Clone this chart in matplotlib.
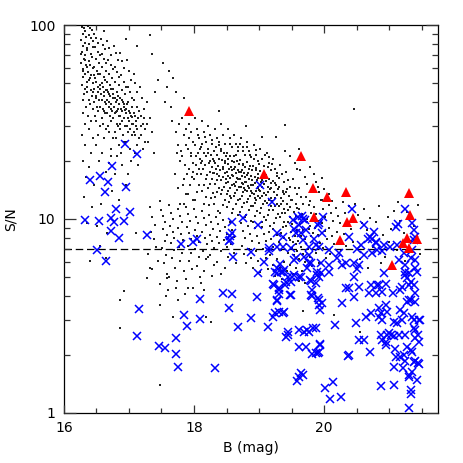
import numpy as np
import matplotlib
matplotlib.use("Agg")
import matplotlib.pyplot as plt
from matplotlib.ticker import FixedLocator, NullFormatter

# red triangles (B mag, S/N)
tri_b = [17.93, 19.07, 19.65, 19.83, 20.05, 20.33, 19.85, 20.35, 20.44, 20.25,
         21.04, 21.30, 21.32, 21.27, 21.42, 21.21, 21.30]
tri_sn = [36, 17, 21, 14.5, 13, 13.7, 10.2, 9.6, 10.1, 7.8,
          5.8, 13.6, 10.5, 8.0, 7.9, 7.5, 7.1]

# blue crosses
cross_b = [16.94, 17.12, 16.74, 16.40, 16.55, 16.68, 16.63, 16.95, 16.80, 17.02,
           16.33, 16.54, 16.72, 16.77, 16.93, 16.72, 16.84, 17.27, 16.51, 16.65,
           17.80, 17.98, 18.04, 18.54, 18.56, 18.58, 18.55, 18.59, 18.60, 17.16,
           18.45, 18.58, 18.09, 18.54, 17.84, 18.09, 17.89, 18.68, 17.13, 17.73,
           17.46, 17.56, 17.72, 17.75, 18.32,
           19.02, 19.20, 18.76, 18.99, 18.88, 18.87, 18.97, 18.99, 19.08, 19.15,
           19.16, 19.13, 19.21, 19.22, 19.27, 19.31, 19.28, 19.32, 19.30, 19.39,
           19.39, 19.44, 19.45, 19.47, 19.49, 19.44, 19.54, 19.57, 19.61, 19.62,
           19.61, 19.72, 19.74, 19.67, 19.64, 19.58, 19.76, 19.76, 19.78, 19.81,
           19.82, 19.83, 19.87, 19.87, 19.94, 19.92, 19.91, 19.92, 19.94, 19.95,
           19.95, 19.97, 20.02, 20.09, 20.14, 20.26, 20.17, 20.27, 20.20, 20.33,
           20.38, 20.38, 20.46, 20.46, 20.49, 20.54, 20.56, 20.54, 20.62, 20.61,
           20.64, 20.70, 20.72, 20.74, 20.77, 20.79, 20.84, 20.89, 20.84, 20.87,
           20.89, 20.87, 20.89, 20.92, 20.95, 20.95, 20.97, 21.00, 21.02, 20.95,
           20.87, 21.07, 21.07, 21.10, 21.15, 21.17, 21.20, 21.20, 21.23, 21.21,
           21.25, 21.28, 21.30, 21.33, 21.34, 21.30, 21.35, 21.38, 21.42, 21.45,
           21.46, 21.40, 21.45, 21.38, 21.35, 21.30, 21.34, 21.40, 21.40, 21.38,
           21.34, 21.30, 21.25, 21.28, 21.43, 21.40, 21.33, 21.25, 21.17, 21.12,
           21.10, 21.35, 21.38, 20.92,
           19.28, 19.36, 19.52, 19.60, 19.66, 19.71, 19.62, 19.72, 19.98, 19.91,
           20.43, 20.70, 20.38, 21.24, 21.13, 21.40,
           20.68, 20.80, 20.89, 20.82, 20.74, 20.61, 20.50, 21.38, 21.35, 21.23,
           21.15, 21.01, 21.40, 21.25, 20.23, 20.28, 20.54, 20.51,
           19.68, 19.54, 19.65, 19.67, 19.92, 19.85, 19.92, 20.08, 19.87, 19.49,
           19.36, 19.28, 19.57, 19.69, 19.77, 19.80, 19.74, 19.28, 19.33, 19.89,
           20.08, 19.54, 19.64, 19.92,
           19.25, 19.36, 19.50, 19.41, 19.23, 19.30, 19.40, 19.31, 19.49, 19.27,
           19.80, 19.87, 19.80, 19.92, 19.97, 19.89, 20.08, 20.33, 19.25, 19.36,
           19.42, 19.69, 19.77, 19.93, 19.82, 19.90, 19.62, 20.36,
           20.46, 20.82, 20.69, 20.79, 21.06, 21.30, 21.27, 20.72, 21.23, 20.84,
           21.07, 21.12, 21.38, 21.48, 20.97, 21.07, 21.39, 21.46, 20.95, 21.09,
           21.33, 21.17, 21.25, 21.35, 21.39, 21.46, 21.30]
cross_sn = [24.4, 21.6, 18.8, 15.9, 16.7, 15.5, 13.8, 14.6, 11.2, 10.9,
            9.9, 9.8, 10.1, 9.6, 9.8, 8.7, 8.0, 8.3, 6.9, 6.1,
            7.4, 7.6, 7.9, 7.7, 8.2, 8.5, 7.8, 9.7, 6.35, 3.44,
            4.15, 4.13, 3.86, 3.48, 3.2, 3.04, 2.81, 2.77, 2.48, 2.44,
            2.21, 2.16, 2.02, 1.73, 1.71,
            15.0, 12.3, 10.1, 9.3, 6.75, 3.1, 3.95, 5.25, 6.0, 6.8,
            7.05, 2.78, 3.13, 4.6, 3.82, 4.3, 5.25, 5.85, 3.33, 3.33,
            5.45, 2.52, 2.63, 4.06, 4.75, 5.0, 6.15, 8.5, 2.68, 2.19,
            5.0, 2.19, 2.68, 1.57, 1.6, 1.46, 5.95, 7.2, 4.85, 4.3,
            4.0, 2.73, 2.74, 2.03, 2.24, 2.07, 3.9, 3.6, 3.4, 5.25,
            5.9, 8.5, 1.34, 1.18, 1.44, 1.21, 2.84, 3.7, 6.3, 5.9,
            4.4, 1.99, 5.9, 5.0, 2.9, 4.47, 7.35, 2.38, 2.38, 9.3,
            3.13, 2.07, 4.57, 7.9, 8.6, 7.5, 4.57, 4.2, 3.47, 3.27,
            3.01, 2.52, 2.38, 5.25, 4.65, 3.6, 3.33, 2.58, 2.52, 2.24,
            1.37, 1.39, 1.73, 1.95, 2.52, 3.4, 3.01, 4.47, 1.99, 1.7,
            2.52, 2.19, 1.57, 1.31, 1.26, 1.06, 1.63, 1.84, 1.48, 1.81,
            3.01, 2.43, 2.52, 2.74, 3.13, 3.82, 3.82, 3.75, 4.15, 4.57,
            4.75, 5.25, 5.15, 4.95, 5.35, 6.15, 6.3, 5.8, 4.3, 7.35,
            9.1, 9.5, 8.8, 7.35,
            8.5, 8.1, 9.9, 10.3, 10.4, 9.9, 9.3, 8.8, 10.2, 9.3,
            11.3, 8.1, 8.1, 11.3, 9.4, 8.1,
            7.85, 7.6, 6.8, 6.9, 6.7, 6.5, 7.0, 7.8, 6.9, 6.7,
            6.15, 7.15, 5.6, 5.35, 6.65, 5.8, 5.8, 5.55,
            9.95, 8.85, 8.5, 7.8, 9.5, 7.9, 7.2, 6.9, 7.35, 7.05,
            7.2, 7.2, 6.3, 6.4, 6.5, 5.9, 5.6, 5.6, 5.35, 5.35,
            5.8, 5.15, 5.0, 5.0,
            5.3, 5.3, 5.0, 4.75, 4.57, 4.4, 4.57, 4.1, 4.06, 3.78,
            4.8, 4.7, 4.06, 3.82, 3.67, 5.15, 5.35, 4.4, 3.28, 3.28,
            2.47, 2.6, 2.6, 2.27, 2.01, 2.03, 1.54, 1.97,
            3.98, 4.57, 4.15, 4.15, 4.15, 4.57, 3.72, 3.27, 3.27, 3.13,
            2.93, 2.9, 3.01, 3.01, 2.52, 2.48, 2.68, 2.33, 2.33, 2.13,
            2.11, 1.95, 1.86, 2.07, 1.86, 1.79, 1.54]

# black dots, grouped by region of the diagram
dots_bright = [
    (16.28, 98), (16.31, 96), (16.33, 93), (16.29, 90), (16.34, 87), (16.27, 84), (16.32, 81),
    (16.30, 78), (16.35, 76), (16.28, 73), (16.33, 70), (16.31, 67), (16.27, 64), (16.34, 62),
    (16.29, 59), (16.32, 56), (16.30, 54), (16.35, 51), (16.28, 49), (16.33, 47), (16.31, 44),
    (16.29, 41), (16.34, 38), (16.30, 35), (16.32, 31), (16.28, 27), (16.33, 24), (16.30, 20),
    (16.34, 16.5), (16.31, 13), (16.29, 58), (16.33, 66), (16.27, 71), (16.35, 45),
    (16.37, 99), (16.40, 97), (16.43, 94), (16.38, 89), (16.42, 86), (16.45, 83), (16.39, 80),
    (16.44, 77), (16.36, 74), (16.41, 71), (16.43, 68), (16.38, 65), (16.40, 62), (16.45, 60),
    (16.37, 57), (16.42, 55), (16.39, 52), (16.44, 50), (16.36, 48), (16.41, 46), (16.43, 43),
    (16.38, 41), (16.40, 39), (16.45, 37), (16.37, 34), (16.42, 32), (16.39, 29), (16.44, 26),
    (16.41, 22), (16.38, 18.5), (16.43, 11.5), (16.40, 53), (16.36, 61), (16.44, 45),
    (16.47, 90), (16.50, 86), (16.53, 81), (16.48, 77), (16.52, 73), (16.55, 70), (16.49, 67),
    (16.54, 64), (16.46, 61), (16.51, 58), (16.53, 56), (16.48, 53), (16.50, 51), (16.55, 49),
    (16.47, 47), (16.52, 45), (16.49, 43), (16.54, 41), (16.46, 40), (16.51, 38), (16.53, 36),
    (16.48, 34), (16.50, 32), (16.55, 30), (16.52, 27), (16.49, 24), (16.54, 20), (16.47, 15),
    (16.51, 9.2), (16.53, 48), (16.46, 55), (16.50, 42),
    (16.57, 85), (16.60, 79), (16.63, 75), (16.58, 71), (16.62, 67), (16.65, 64), (16.59, 61),
    (16.64, 58), (16.56, 56), (16.61, 54), (16.63, 52), (16.58, 50), (16.60, 48), (16.65, 46),
    (16.57, 44), (16.62, 43), (16.59, 41), (16.64, 39), (16.56, 38), (16.61, 36), (16.63, 35),
    (16.58, 33), (16.60, 31), (16.65, 29), (16.62, 26), (16.59, 22), (16.64, 17.5), (16.57, 12),
    (16.61, 45), (16.63, 40), (16.56, 47), (16.60, 37),
    (16.67, 83), (16.70, 76), (16.73, 70), (16.68, 66), (16.72, 62), (16.75, 59), (16.69, 56),
    (16.74, 53), (16.66, 51), (16.71, 49), (16.73, 47), (16.68, 45), (16.70, 44), (16.75, 42),
    (16.67, 41), (16.72, 39), (16.69, 38), (16.74, 36), (16.66, 35), (16.71, 34), (16.73, 32),
    (16.68, 30), (16.70, 28), (16.75, 26), (16.72, 23), (16.69, 19.5), (16.74, 14), (16.67, 8.5),
    (16.71, 43), (16.73, 37), (16.66, 46), (16.70, 40),
    (16.77, 78), (16.80, 72), (16.83, 66), (16.78, 61), (16.82, 57), (16.85, 54), (16.79, 51),
    (16.84, 49), (16.76, 47), (16.81, 45), (16.83, 43), (16.78, 42), (16.80, 40), (16.85, 39),
    (16.77, 38), (16.82, 36), (16.79, 35), (16.84, 34), (16.76, 33), (16.81, 31), (16.83, 30),
    (16.78, 28), (16.80, 26), (16.85, 24), (16.82, 21), (16.79, 17), (16.84, 12.5), (16.81, 41),
    (16.83, 37), (16.76, 44), (16.80, 35.5),
    (16.87, 72), (16.90, 65), (16.93, 60), (16.88, 55), (16.92, 51), (16.95, 48), (16.89, 46),
    (16.94, 44), (16.86, 42), (16.91, 40), (16.93, 39), (16.88, 37), (16.90, 36), (16.95, 35),
    (16.87, 34), (16.92, 33), (16.89, 32), (16.94, 30), (16.86, 29), (16.91, 27), (16.93, 25),
    (16.88, 22), (16.90, 19), (16.95, 15), (16.92, 38), (16.89, 41), (16.94, 36.5), (16.87, 31),
    (16.97, 66), (17.00, 58), (17.03, 52), (16.98, 48), (17.02, 45), (17.05, 42), (16.99, 40),
    (17.04, 38), (16.96, 37), (17.01, 35), (17.03, 34), (16.98, 33), (17.00, 32), (17.05, 31),
    (16.97, 30), (17.02, 29), (16.99, 28), (17.04, 27), (16.96, 25), (17.01, 23), (17.03, 20),
    (16.98, 17), (17.00, 36), (17.04, 33.5), (16.97, 39),
    (17.07, 56), (17.10, 50), (17.13, 45), (17.08, 41), (17.12, 38), (17.15, 36), (17.09, 34),
    (17.14, 33), (17.06, 31), (17.11, 30), (17.13, 29), (17.08, 28), (17.10, 27), (17.15, 26),
    (17.12, 24), (17.09, 22), (17.14, 19), (17.07, 35), (17.11, 32),
    (17.17, 48), (17.20, 42), (17.23, 37), (17.18, 34), (17.22, 31), (17.25, 29), (17.19, 27),
    (17.24, 25), (17.21, 23), (17.18, 30), (17.23, 33),
    (17.28, 40), (17.32, 33), (17.36, 28), (17.30, 25), (17.38, 22), (17.27, 31),
    (17.35, 71), (17.52, 64), (17.62, 58), (17.68, 53), (17.58, 48), (17.72, 45), (17.45, 52),
    (17.55, 40), (17.40, 45), (17.65, 38), (17.13, 78), (16.95, 85), (16.62, 93),
]

dots_middle = [
    (17.72, 28), (17.75, 24), (17.78, 20), (17.71, 17), (17.76, 14.5), (17.79, 12), (17.74, 22), (17.77, 31),
    (17.82, 33), (17.85, 27), (17.88, 24), (17.81, 21), (17.86, 19), (17.89, 17), (17.83, 15), (17.87, 13.5),
    (17.84, 12), (17.80, 22.5), (17.88, 29), (17.85, 16),
    (17.92, 31), (17.95, 28), (17.98, 25), (17.91, 23), (17.96, 21), (17.99, 19.5), (17.93, 18), (17.97, 16.5),
    (17.94, 15), (17.90, 13.5), (17.98, 12.5), (17.95, 22), (17.92, 26), (17.99, 17.5),
    (18.02, 33), (18.05, 29), (18.08, 26), (18.01, 24), (18.06, 22), (18.09, 20.5), (18.03, 19), (18.07, 18),
    (18.04, 17), (18.00, 16), (18.08, 15), (18.05, 13.8), (18.02, 12.6), (18.09, 23), (18.06, 27), (18.03, 21),
    (18.12, 32), (18.15, 28), (18.18, 25), (18.11, 23.5), (18.16, 22), (18.19, 21), (18.13, 20), (18.17, 19),
    (18.14, 18), (18.10, 17), (18.18, 16), (18.15, 15), (18.12, 14), (18.19, 13), (18.16, 12), (18.13, 24.5),
    (18.17, 26.5), (18.11, 19.5),
    (18.22, 30), (18.25, 27), (18.28, 24.5), (18.21, 23), (18.26, 21.5), (18.29, 20.5), (18.23, 19.5),
    (18.27, 18.5), (18.24, 17.5), (18.20, 16.8), (18.28, 16), (18.25, 15.2), (18.22, 14.4), (18.29, 13.6),
    (18.26, 12.8), (18.23, 11.8), (18.21, 22), (18.27, 25.5), (18.24, 20), (18.29, 17.2),
    (18.32, 29), (18.35, 26), (18.38, 24), (18.31, 22.5), (18.36, 21.5), (18.39, 20.5), (18.33, 19.5),
    (18.37, 18.7), (18.34, 18), (18.30, 17.3), (18.38, 16.6), (18.35, 15.9), (18.32, 15.2), (18.39, 14.5),
    (18.36, 13.8), (18.33, 13), (18.31, 12), (18.37, 11), (18.34, 23.5), (18.39, 25), (18.30, 20), (18.36, 17),
    (18.42, 31), (18.45, 27), (18.48, 24.5), (18.41, 23), (18.46, 22), (18.49, 21), (18.43, 20.2),
    (18.47, 19.4), (18.44, 18.6), (18.40, 17.9), (18.48, 17.2), (18.45, 16.5), (18.42, 15.9), (18.49, 15.3),
    (18.46, 14.7), (18.43, 14.1), (18.41, 13.4), (18.47, 12.6), (18.44, 11.8), (18.40, 10.8), (18.48, 20),
    (18.45, 18.2), (18.42, 22.5), (18.49, 16),
    (18.52, 29), (18.55, 26), (18.58, 23.5), (18.51, 22), (18.56, 21), (18.59, 20), (18.53, 19.3),
    (18.57, 18.6), (18.54, 18), (18.50, 17.4), (18.58, 16.8), (18.55, 16.2), (18.52, 15.6), (18.59, 15),
    (18.56, 14.5), (18.53, 14), (18.51, 13.4), (18.57, 12.8), (18.54, 12.2), (18.50, 11.5), (18.58, 10.8),
    (18.55, 24.5), (18.52, 20.5), (18.59, 17.8), (18.56, 13.1), (18.53, 16.6),
    (18.62, 27), (18.65, 24.5), (18.68, 22.5), (18.61, 21), (18.66, 20), (18.69, 19.2), (18.63, 18.5),
    (18.67, 17.8), (18.64, 17.2), (18.60, 16.6), (18.68, 16.1), (18.65, 15.6), (18.62, 15.1), (18.69, 14.6),
    (18.66, 14.1), (18.63, 13.6), (18.61, 13.1), (18.67, 12.5), (18.64, 11.9), (18.60, 11.2), (18.68, 10.5),
    (18.65, 21.5), (18.62, 19.6), (18.69, 17.5), (18.66, 16.3), (18.63, 14.8), (18.67, 23.5), (18.61, 18.1),
    (18.72, 26), (18.75, 23.5), (18.78, 21.5), (18.71, 20.2), (18.76, 19.3), (18.79, 18.5), (18.73, 17.8),
    (18.77, 17.2), (18.74, 16.6), (18.70, 16.1), (18.78, 15.6), (18.75, 15.1), (18.72, 14.6), (18.79, 14.1),
    (18.76, 13.7), (18.73, 13.2), (18.71, 12.7), (18.77, 12.1), (18.74, 11.5), (18.70, 10.9), (18.78, 10.2),
    (18.75, 18.9), (18.72, 17.5), (18.79, 16.4), (18.76, 22.5), (18.73, 15.3), (18.71, 24.5), (18.77, 14.4),
    (18.82, 25), (18.85, 22.5), (18.88, 20.8), (18.81, 19.6), (18.86, 18.7), (18.89, 17.9), (18.83, 17.2),
    (18.87, 16.6), (18.84, 16), (18.80, 15.5), (18.88, 15), (18.85, 14.5), (18.82, 14), (18.89, 13.6),
    (18.86, 13.2), (18.83, 12.7), (18.81, 12.2), (18.87, 11.7), (18.84, 11.1), (18.80, 10.5), (18.88, 9.8),
    (18.85, 18.2), (18.82, 16.9), (18.89, 15.8), (18.86, 21.5), (18.83, 14.8), (18.81, 23.5), (18.87, 13.9),
    (18.92, 24), (18.95, 21.5), (18.98, 19.8), (18.91, 18.7), (18.96, 17.8), (18.99, 17.1), (18.93, 16.5),
    (18.97, 15.9), (18.94, 15.4), (18.90, 14.9), (18.98, 14.4), (18.95, 13.9), (18.92, 13.5), (18.99, 13.1),
    (18.96, 12.6), (18.93, 12.1), (18.91, 11.6), (18.97, 11), (18.94, 10.4), (18.90, 9.7), (18.98, 16.2),
    (18.95, 18.3), (18.92, 20.5), (18.99, 14.7), (18.96, 22.8), (18.93, 12.9),
    (19.02, 23), (19.05, 20.5), (19.08, 18.8), (19.01, 17.7), (19.06, 16.9), (19.09, 16.2), (19.03, 15.6),
    (19.07, 15.1), (19.04, 14.6), (19.00, 14.1), (19.08, 13.6), (19.05, 13.2), (19.02, 12.8), (19.09, 12.4),
    (19.06, 11.9), (19.03, 11.4), (19.01, 10.8), (19.07, 10.2), (19.04, 9.6), (19.00, 19.3), (19.08, 17.3),
    (19.05, 15.9), (19.02, 13.9), (19.09, 21.5),
    (19.12, 22), (19.15, 19.5), (19.18, 17.9), (19.11, 16.8), (19.16, 16), (19.19, 15.3), (19.13, 14.7),
    (19.17, 14.2), (19.14, 13.7), (19.10, 13.3), (19.18, 12.9), (19.15, 12.5), (19.12, 12.1), (19.19, 11.6),
    (19.16, 11.1), (19.13, 10.5), (19.11, 9.9), (19.17, 9.2), (19.14, 18.5), (19.10, 15.7), (19.18, 14.5),
    (19.15, 20.8),
    (19.22, 20.5), (19.25, 18.2), (19.28, 16.7), (19.21, 15.7), (19.26, 14.9), (19.29, 14.3), (19.23, 13.8),
    (19.27, 13.3), (19.24, 12.8), (19.20, 12.4), (19.28, 12), (19.25, 11.6), (19.22, 11.1), (19.29, 10.6),
    (19.26, 10.1), (19.23, 9.5), (19.21, 8.9), (19.27, 17.3), (19.24, 15.3), (19.20, 19.2),
    (19.32, 19), (19.35, 17), (19.38, 15.6), (19.31, 14.7), (19.36, 14), (19.39, 13.4), (19.33, 12.9),
    (19.37, 12.4), (19.34, 12), (19.30, 11.6), (19.38, 11.2), (19.35, 10.7), (19.32, 10.2), (19.39, 9.7),
    (19.36, 9.1), (19.33, 8.5), (19.31, 16.2), (19.37, 13.7),
    (19.42, 17.5), (19.45, 15.8), (19.48, 14.6), (19.41, 13.8), (19.46, 13.1), (19.49, 12.5), (19.43, 12),
    (19.47, 11.5), (19.44, 11.1), (19.40, 10.7), (19.48, 10.2), (19.45, 9.7), (19.42, 9.2), (19.49, 8.6),
    (19.46, 8), (19.43, 14.2),
    (19.52, 16), (19.55, 14.5), (19.58, 13.4), (19.51, 12.6), (19.56, 12), (19.59, 11.4), (19.53, 10.9),
    (19.57, 10.4), (19.54, 9.9), (19.50, 9.4), (19.58, 8.8), (19.55, 8.2), (19.52, 7.6),
    (19.62, 14.5), (19.65, 13), (19.68, 12), (19.61, 11.2), (19.66, 10.6), (19.69, 10), (19.63, 9.4),
    (19.67, 8.8), (19.64, 8.2), (19.60, 7.7),
    (19.72, 13), (19.76, 11.8), (19.80, 10.8), (19.74, 10), (19.78, 9.2), (19.83, 8.5), (19.71, 7.9), (19.79, 12.4),
    (19.88, 15.5), (19.92, 13.8), (19.95, 12.6), (20.00, 14.2), (20.04, 12.9), (20.08, 13.5), (19.84, 17),
    (19.78, 18.5), (19.70, 16.5), (19.63, 17.8), (19.55, 19.5), (19.48, 21), (19.40, 22.5), (19.58, 18.2),
    (19.73, 15.2), (20.12, 12.4), (19.97, 16.3), (19.90, 14.6),
]

dots_low = [
    (17.32, 11.5), (17.36, 10.2), (17.40, 9.3), (17.34, 8.6), (17.38, 7.9), (17.42, 7.2), (17.30, 6.6),
    (17.45, 6.1), (17.35, 5.5), (17.48, 12.4),
    (17.50, 11.1), (17.53, 10.4), (17.56, 9.6), (17.52, 8.9), (17.58, 8.3), (17.55, 7.7), (17.51, 7.1),
    (17.57, 6.5), (17.54, 5.9), (17.59, 5.2), (17.47, 4.6), (17.60, 4.3),
    (17.62, 11.8), (17.65, 10.8), (17.68, 10), (17.63, 9.2), (17.67, 8.6), (17.70, 8), (17.64, 7.5),
    (17.69, 6.9), (17.66, 6.3), (17.71, 5.6), (17.61, 5), (17.73, 4.4),
    (17.75, 11.2), (17.78, 10.4), (17.81, 9.7), (17.76, 9), (17.80, 8.4), (17.83, 7.8), (17.77, 7.2),
    (17.82, 6.7), (17.79, 6.1), (17.84, 5.4), (17.74, 4.8), (17.86, 4.1),
    (17.88, 11.5), (17.91, 10.6), (17.94, 9.8), (17.89, 9.1), (17.93, 8.5), (17.96, 7.9), (17.90, 7.3),
    (17.95, 6.7), (17.92, 6.1), (17.97, 5.5), (17.87, 4.9),
    (18.00, 11.2), (18.03, 10.3), (18.06, 9.5), (18.01, 8.8), (18.05, 8.2), (18.08, 7.6), (18.02, 7),
    (18.07, 6.4), (18.04, 5.7), (18.09, 5), (17.99, 4.4),
    (18.12, 11), (18.15, 10.1), (18.18, 9.3), (18.13, 8.6), (18.17, 8), (18.20, 7.4), (18.14, 6.8),
    (18.19, 6.2), (18.16, 5.4), (18.11, 4.7),
    (18.23, 10.5), (18.26, 9.7), (18.29, 8.9), (18.24, 8.3), (18.28, 7.7), (18.31, 7.1), (18.25, 6.5),
    (18.30, 5.8), (18.27, 5.1),
    (18.34, 10.2), (18.37, 9.4), (18.40, 8.7), (18.35, 8.1), (18.39, 7.5), (18.42, 6.8), (18.36, 6), (18.41, 5.2),
    (18.45, 9.9), (18.48, 9.1), (18.51, 8.4), (18.46, 7.8), (18.50, 7.2), (18.53, 6.4), (18.47, 5.6),
    (18.56, 9.6), (18.59, 8.8), (18.62, 8.1), (18.57, 7.4), (18.61, 6.7), (18.64, 5.9),
    (18.72, 9.5), (18.75, 8.7), (18.78, 8), (18.73, 7.3), (18.77, 6.6), (18.80, 5.9),
    (18.83, 9.2), (18.86, 8.4), (18.89, 7.7), (18.84, 7), (18.88, 6.3), (18.91, 5.6),
    (18.94, 9), (18.97, 8.2), (19.00, 7.5), (18.95, 6.8), (18.99, 6.1), (19.02, 5.3),
    (19.05, 9.1), (19.08, 8.4), (19.11, 7.7), (19.06, 7), (19.10, 6.3), (19.13, 5.5),
    (19.16, 8.6), (19.19, 7.9), (19.22, 7.2), (19.17, 6.5), (19.21, 5.8), (19.24, 5.1),
    (19.27, 8.3), (19.30, 7.6), (19.33, 6.9), (19.28, 6.2), (19.32, 5.6), (19.35, 4.9),
    (19.38, 8), (19.41, 7.4), (19.44, 6.7), (19.39, 6), (19.43, 5.4),
    (19.47, 7.8), (19.50, 7.1), (19.53, 6.5), (19.48, 5.8), (19.52, 5.2),
    (19.56, 7.4), (19.59, 6.8), (19.62, 6.2), (19.57, 5.6), (19.61, 4.8),
    (19.65, 7.2), (19.68, 6.6), (19.71, 6), (19.66, 5.4), (19.70, 4.7),
    (19.74, 9.6), (19.77, 8.9), (19.80, 8.2), (19.75, 7), (19.79, 6.4), (19.82, 5.7),
    (19.85, 11.5), (19.88, 10.6), (19.91, 9.8), (19.86, 9), (19.90, 8.3), (19.93, 7.5), (19.87, 6.7), (19.92, 5.9),
    (19.96, 12.5), (19.99, 11.2), (20.02, 10.3), (19.97, 9.5), (20.01, 8.7), (20.04, 7.9), (19.98, 7.1), (20.03, 6.3),
    (20.07, 11.8), (20.10, 10.7), (20.13, 9.8), (20.08, 9), (20.12, 8.2), (20.15, 7.4), (20.09, 6.6),
    (20.18, 11.4), (20.21, 10.4), (20.24, 9.5), (20.19, 8.6), (20.23, 7.8), (20.26, 6.9),
    (20.29, 12.2), (20.32, 10.8), (20.35, 9.3), (20.30, 8.4), (20.34, 7.3), (20.38, 11.6), (20.42, 8.9), (20.45, 7.6),
]

dots_faint = [
    (20.48, 12), (20.52, 10.5), (20.58, 9.5), (20.62, 11.2), (20.66, 8.8), (20.71, 10.1), (20.75, 7.2),
    (20.80, 9.6), (20.85, 11.6), (20.90, 8.3), (20.94, 6.4), (20.98, 10.3), (21.03, 8.9), (21.08, 11),
    (21.12, 6.9), (21.17, 9.8), (21.22, 8.5), (21.28, 10.9), (21.33, 7.7), (21.38, 9.2), (21.44, 11.8),
    (21.48, 6.6), (20.55, 6.2), (20.68, 5.6), (20.88, 5.9), (21.00, 7.6), (21.14, 12.3), (21.25, 6.1),
]

dots_stray = [
    (17.32, 89), (18.80, 30), (19.40, 30.5), (19.05, 26.5), (19.26, 26.5), (19.62, 23), (20.46, 37),
    (16.40, 6.1), (16.65, 6.3), (17.11, 8.5), (17.27, 4.95), (17.32, 5.6), (17.59, 4.95), (17.67, 3.13),
    (18.19, 3.13), (18.26, 2.95), (17.90, 4.4), (17.75, 3.82), (17.57, 4.0), (17.47, 3.6), (18.16, 4.3),
    (18.21, 6.4), (17.48, 1.39), (16.86, 2.75), (16.93, 4.25), (16.87, 3.82), (19.68, 3.37), (20.15, 3.2),
    (20.55, 2.6), (17.85, 42), (17.66, 32), (18.38, 36), (16.72, 21), (16.36, 9.5), (16.55, 7.3),
]

cut_sn = 7.0

# axis ticks
x_major = [16, 18, 20]
x_minor = [16.5, 17, 17.5, 18.5, 19, 19.5, 20.5, 21, 21.5]
y_major = [1, 10, 100]
y_minor = [2, 3, 4, 5, 6, 7, 8, 9, 20, 30, 40, 50, 60, 70, 80, 90]

all_dots = dots_bright + dots_middle + dots_low + dots_faint + dots_stray
dot_b = [d[0] for d in all_dots]
dot_sn = [d[1] for d in all_dots]

fig = plt.figure(figsize=(4.63, 4.63), dpi=100)
ax = fig.add_axes([0.138, 0.108, 0.808, 0.838])

ax.scatter(dot_b, dot_sn, s=1.0, marker='s', color='#222222', linewidths=0, zorder=2)
ax.axhline(cut_sn, color='black', lw=0.9, dashes=(6, 3), zorder=2.2)
ax.plot(cross_b, cross_sn, 'x', color='#0000ff', ms=5.8, mew=1.1, zorder=3)
ax.plot(tri_b, tri_sn, '^', color='#ff0000', ms=7.5, mew=0, zorder=4)

ax.set_yscale('log')
ax.set_xlim(16, 21.75)
ax.set_ylim(1, 100)

ax.xaxis.set_major_locator(FixedLocator(x_major))
ax.xaxis.set_minor_locator(FixedLocator(x_minor))
ax.xaxis.set_minor_formatter(NullFormatter())
ax.yaxis.set_major_locator(FixedLocator(y_major))
ax.yaxis.set_minor_locator(FixedLocator(y_minor))
ax.yaxis.set_minor_formatter(NullFormatter())
ax.set_xticklabels([str(v) for v in x_major])
ax.set_yticklabels([str(v) for v in y_major])
ax.tick_params(which='both', length=0, labelsize=10, pad=6)

# inward tick marks on all four sides, lengths as fractions of the axes
xt = ax.get_xaxis_transform()
yt = ax.get_yaxis_transform()
tick_style = dict(color='#333333', lw=0.9, solid_capstyle='butt', clip_on=False, zorder=5)
for xs, ln in ((x_major, 0.021), (x_minor, 0.013)):
    for v in xs:
        ax.plot([v, v], [0, ln], transform=xt, **tick_style)
        ax.plot([v, v], [1 - ln, 1], transform=xt, **tick_style)
for ys, ln in ((y_major, 0.032), (y_minor, 0.017)):
    for v in ys:
        ax.plot([0, ln], [v, v], transform=yt, **tick_style)
        ax.plot([1 - ln, 1], [v, v], transform=yt, **tick_style)

for s in ax.spines.values():
    s.set_linewidth(0.9)

ax.set_xlabel('B (mag)', fontsize=10, labelpad=4)
ax.set_ylabel('S/N', fontsize=10, labelpad=8)

fig.savefig('out.png', dpi=100)
